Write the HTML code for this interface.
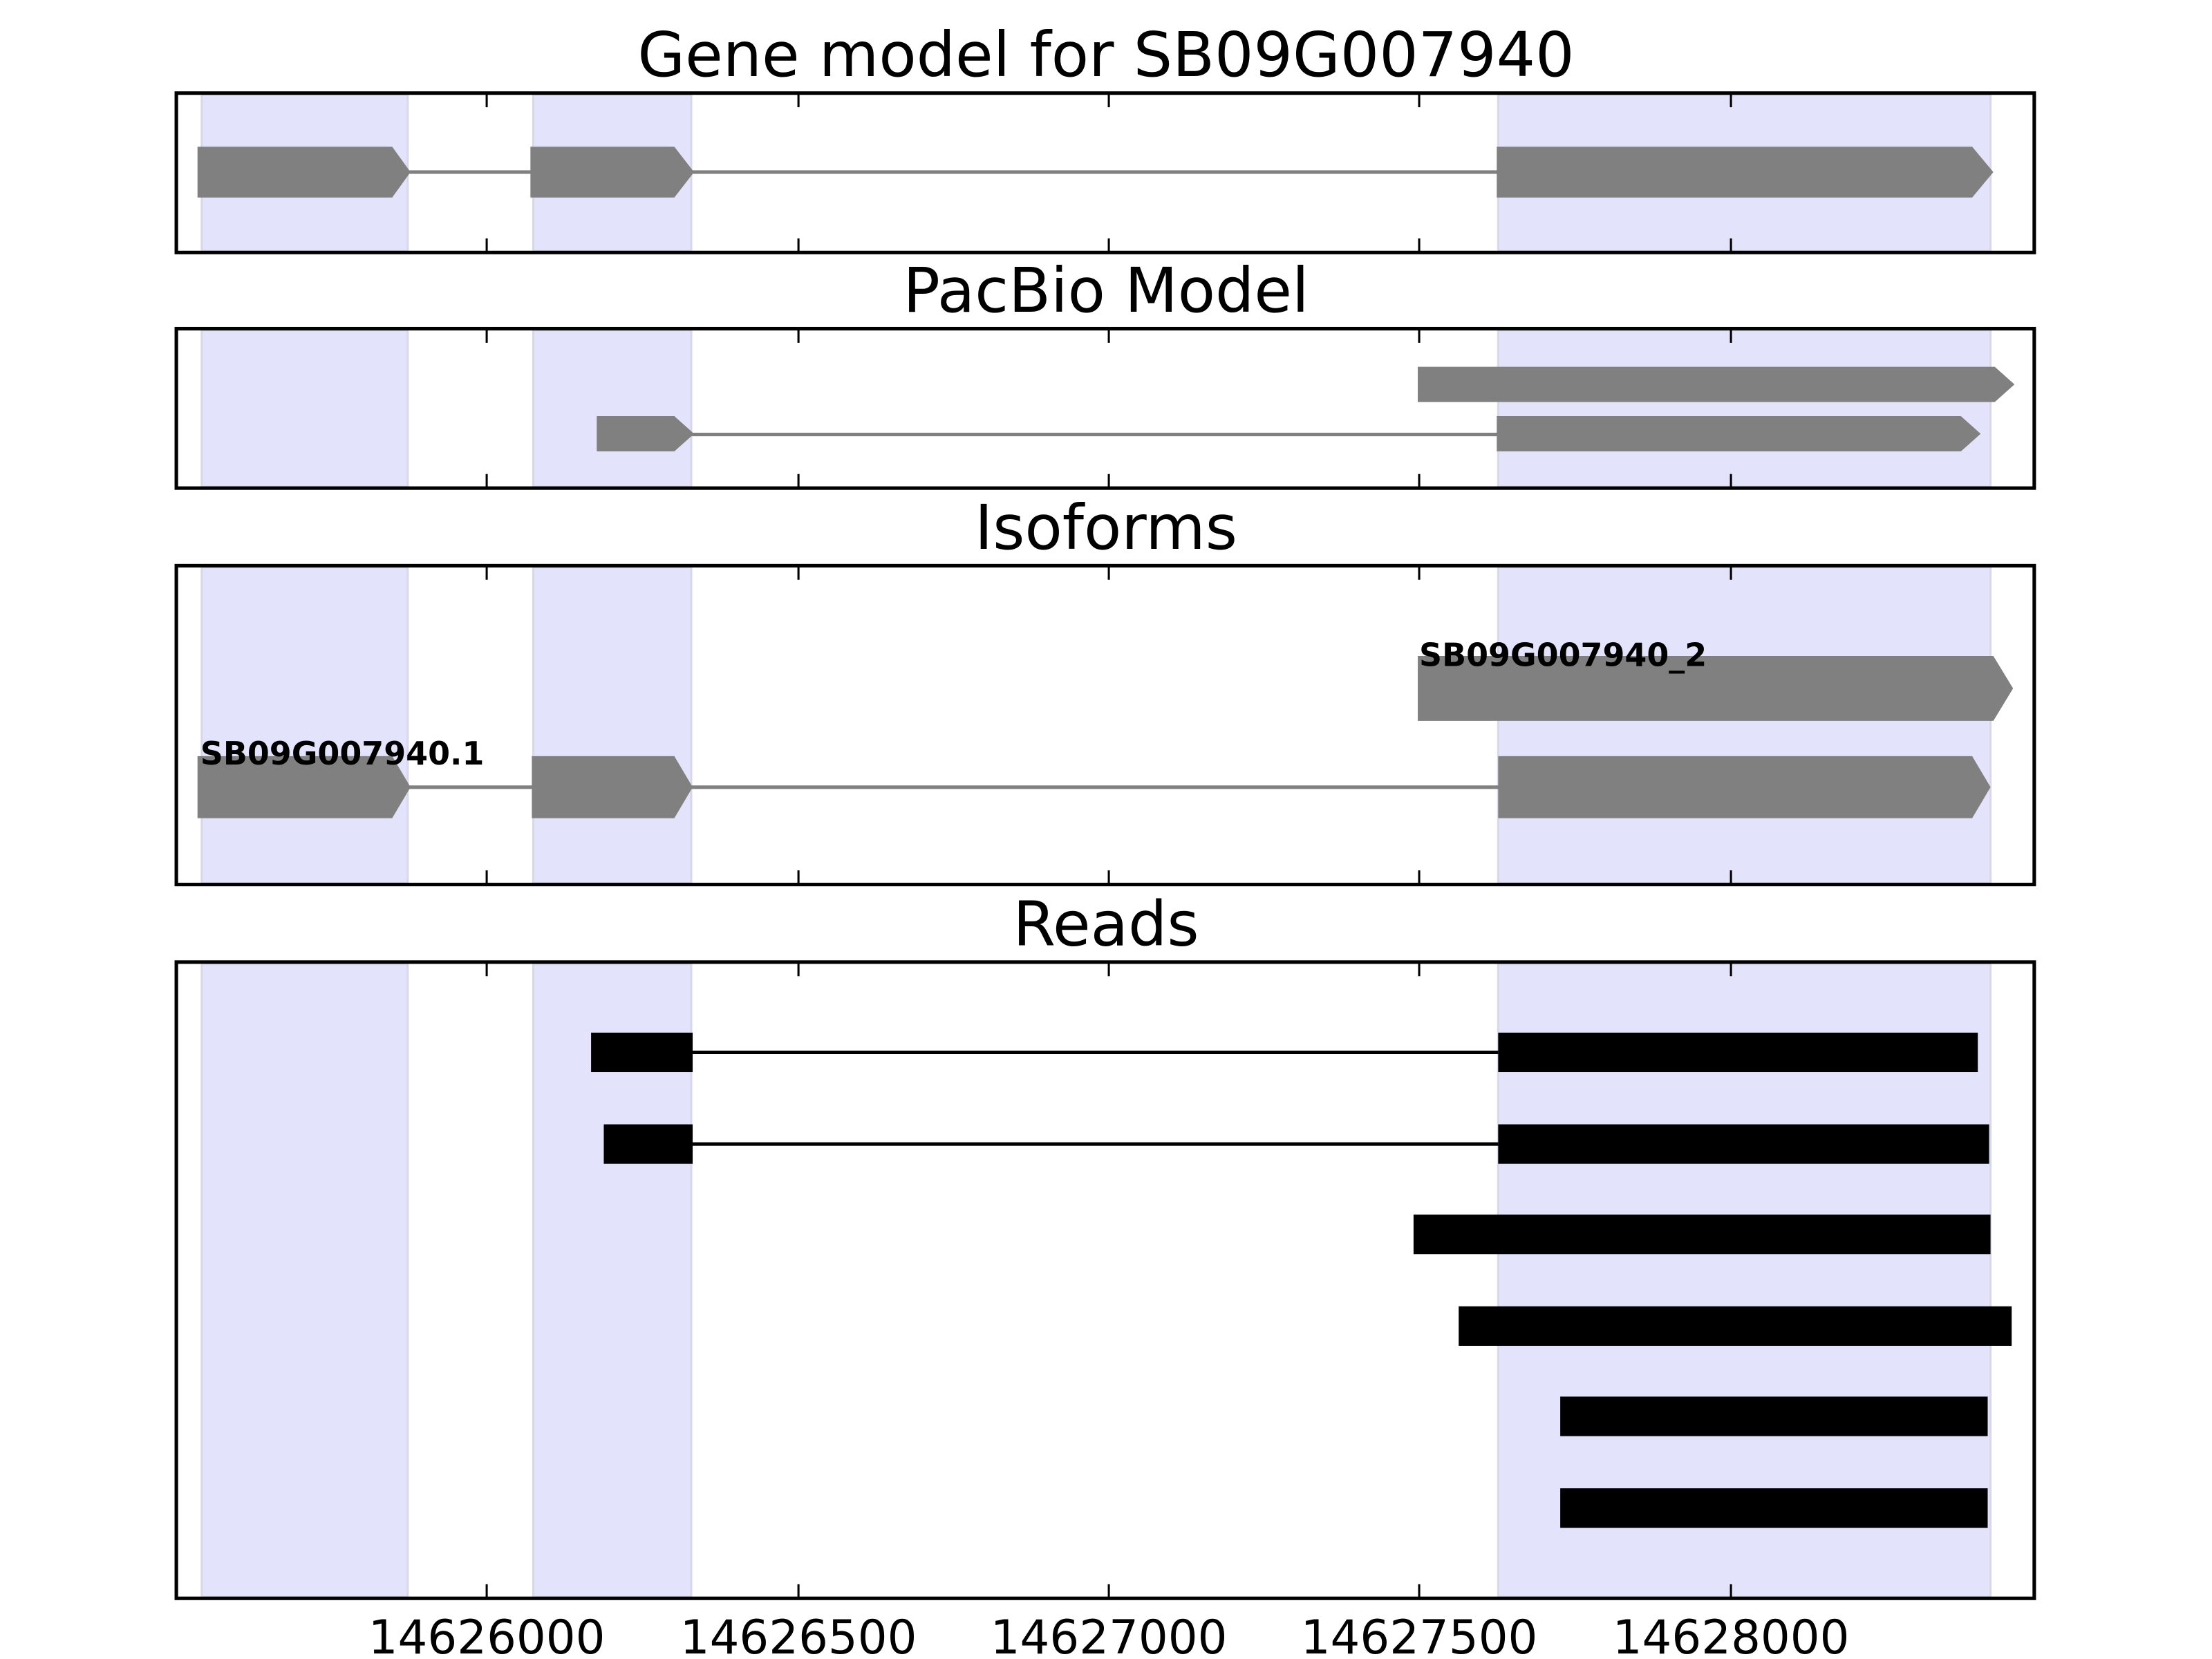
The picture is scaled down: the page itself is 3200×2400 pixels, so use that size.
<!DOCTYPE html>
<html><head><meta charset="utf-8"><style>
html,body{margin:0;padding:0;background:#fff;}
svg{display:block;}
text{font-family:"DejaVu Sans","Liberation Sans",sans-serif;}
</style></head><body>
<svg width="3200" height="2400" viewBox="0 0 1568 1176" xmlns="http://www.w3.org/2000/svg">
<g fill="#e3e3fc" stroke="#d8d8e8" stroke-width="1.5">
<rect x="143" y="67" width="146" height="111"/><rect x="378" y="67" width="112" height="111"/><rect x="1062" y="67" width="349" height="111"/>
<rect x="143" y="234" width="146" height="111"/><rect x="378" y="234" width="112" height="111"/><rect x="1062" y="234" width="349" height="111"/>
<rect x="143" y="402" width="146" height="224"/><rect x="378" y="402" width="112" height="224"/><rect x="1062" y="402" width="349" height="224"/>
<rect x="143" y="683" width="146" height="449"/><rect x="378" y="683" width="112" height="449"/><rect x="1062" y="683" width="349" height="449"/>
</g>
<g font-size="43.5" text-anchor="middle" fill="#000">
<text x="784" y="54">Gene model for SB09G007940</text>
<text x="784" y="221">PacBio Model</text>
<text x="784" y="389">Isoforms</text>
<text x="784" y="670">Reads</text>
</g>
<line x1="280" y1="122" x2="1070" y2="122" stroke="#808080" stroke-width="2.5"/>
<g fill="#808080">
<polygon points="140,104 278,104 291,122 278,140 140,140"/>
<polygon points="376,104 478,104 492,122 478,140 376,140"/>
<polygon points="1061,104 1398,104 1413,122 1398,140 1061,140"/>
</g>
<line x1="480" y1="308" x2="1070" y2="308" stroke="#808080" stroke-width="2.5"/>
<g fill="#808080">
<polygon points="1005,260 1414,260 1428,272.5 1414,285 1005,285"/>
<polygon points="423,295 478,295 492,307.5 478,320 423,320"/>
<polygon points="1061,295 1390,295 1404,307.5 1390,320 1061,320"/>
</g>
<line x1="280" y1="558" x2="1070" y2="558" stroke="#808080" stroke-width="2.5"/>
<g fill="#808080">
<polygon points="1005,465 1413,465 1427,488 1413,511 1005,511"/>
<polygon points="140,536 278,536 291,558 278,580 140,580"/>
<polygon points="377,536 478,536 491,558 478,580 377,580"/>
<polygon points="1062,536 1398,536 1411,558 1398,580 1062,580"/>
</g>
<g font-size="22.5" font-weight="bold" fill="#000">
<text x="1006" y="472">SB09G007940_2</text>
<text x="142" y="542">SB09G007940.1</text>
</g>
<g stroke="#000" stroke-width="2.5">
<line x1="491" y1="746" x2="1062" y2="746"/>
<line x1="491" y1="811" x2="1062" y2="811"/>
</g>
<g fill="#000">
<rect x="419" y="732" width="72" height="28"/><rect x="1062" y="732" width="340" height="28"/>
<rect x="428" y="797" width="63" height="28"/><rect x="1062" y="797" width="348" height="28"/>
<rect x="1002" y="861" width="409" height="28"/>
<rect x="1034" y="926" width="392" height="28"/>
<rect x="1106" y="990" width="303" height="28"/>
<rect x="1106" y="1055" width="303" height="28"/>
</g>
<g fill="none" stroke="#000" stroke-width="2.5">
<rect x="125" y="66" width="1317" height="113"/>
<rect x="125" y="233" width="1317" height="113"/>
<rect x="125" y="401" width="1317" height="226"/>
<rect x="125" y="682" width="1317" height="451"/>
</g>
<g stroke="#000" stroke-width="1.5">
<path d="M345,66v10M566,66v10M786,66v10M1006,66v10M1227,66v10M345,179v-10M566,179v-10M786,179v-10M1006,179v-10M1227,179v-10"/>
<path d="M345,233v10M566,233v10M786,233v10M1006,233v10M1227,233v10M345,346v-10M566,346v-10M786,346v-10M1006,346v-10M1227,346v-10"/>
<path d="M345,401v10M566,401v10M786,401v10M1006,401v10M1227,401v10M345,627v-10M566,627v-10M786,627v-10M1006,627v-10M1227,627v-10"/>
<path d="M345,682v10M566,682v10M786,682v10M1006,682v10M1227,682v10M345,1133v-10M566,1133v-10M786,1133v-10M1006,1133v-10M1227,1133v-10"/>
</g>
<g font-size="33" text-anchor="middle" fill="#000">
<text x="345" y="1172">14626000</text>
<text x="566" y="1172">14626500</text>
<text x="786" y="1172">14627000</text>
<text x="1006" y="1172">14627500</text>
<text x="1227" y="1172">14628000</text>
</g>
</svg>
</body></html>
